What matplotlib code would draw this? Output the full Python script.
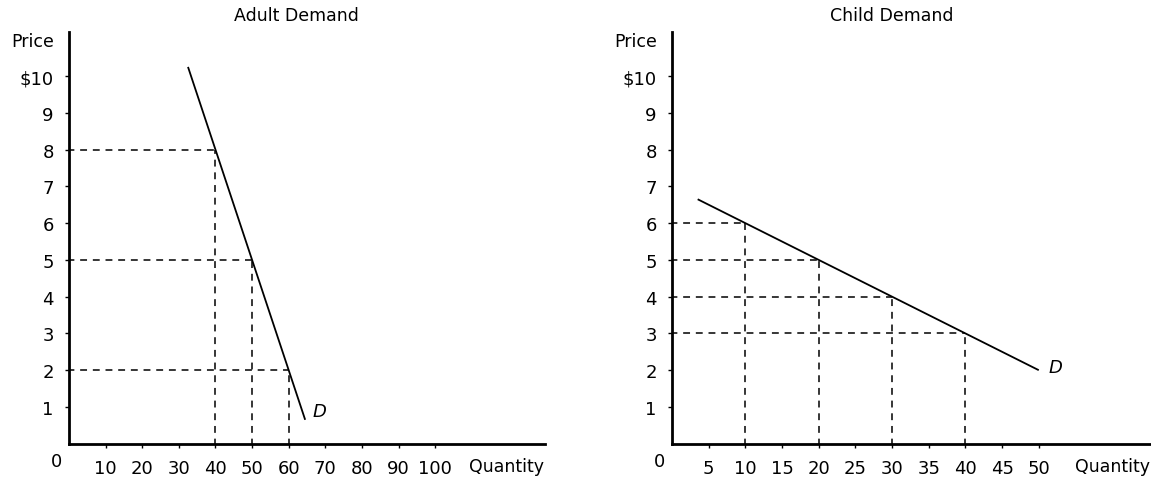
import matplotlib
matplotlib.use("Agg")
import matplotlib.pyplot as plt

# ---- data ----
price_ticks = [1, 2, 3, 4, 5, 6, 7, 8, 9, 10]
price_labels = ["1", "2", "3", "4", "5", "6", "7", "8", "9", "$10"]

adult_title = "Adult Demand"
adult_curve_q = [32.5, 64.5]
adult_curve_p = [10.25, 0.65]
adult_points_q = [40, 50, 60]
adult_points_p = [8, 5, 2]
adult_xticks = [10, 20, 30, 40, 50, 60, 70, 80, 90, 100]
adult_label_pos = (68.5, 0.9)

child_title = "Child Demand"
child_curve_q = [3.5, 50]
child_curve_p = [6.65, 2.0]
child_points_q = [10, 20, 30, 40]
child_points_p = [6, 5, 4, 3]
child_xticks = [5, 10, 15, 20, 25, 30, 35, 40, 45, 50]
child_label_pos = (52.3, 2.1)

plt.rcParams['font.family'] = ['DejaVu Sans']

fig = plt.figure(figsize=(11.51, 4.81), dpi=100)
H = 481.0
W = 1151.0
bottom = 1 - 444.7 / H
height = (444.7 - 33) / H

axL = fig.add_axes([69 / W, bottom, 476 / W, height])
axR = fig.add_axes([672 / W, bottom, 479 / W, height])


def style(ax, xmax, xticks, title, title_x):
    ax.set_xlim(0, xmax)
    ax.set_ylim(0, 11.2)
    for s in ["top", "right"]:
        ax.spines[s].set_visible(False)
    for s in ["left", "bottom"]:
        ax.spines[s].set_linewidth(2.0)
        ax.spines[s].set_color("black")
    ax.set_yticks(price_ticks)
    ax.set_yticklabels(price_labels)
    ax.set_xticks(xticks)
    ax.set_xticklabels([str(t) for t in xticks])
    ax.tick_params(axis="y", direction="out", length=3, width=1, pad=8, labelsize=13)
    ax.tick_params(axis="x", direction="out", length=3, width=1, pad=8, labelsize=13)
    ax.text(-0.076, 0.977, "Price", transform=ax.transAxes, ha="center", va="center", fontsize=12.5)
    ax.text(-0.026, -0.043, "0", transform=ax.transAxes, ha="center", va="center", fontsize=13)
    ax.text(0.997, -0.055, "Quantity", transform=ax.transAxes, ha="right", va="center", fontsize=12.5)
    fig.text(title_x / W, 1 - 16 / H, title, ha="center", va="center", fontsize=12.5)


def draw(ax, cq, cp, pq, pp, lab):
    for q, p in zip(pq, pp):
        ax.plot([0, q], [p, p], color="black", lw=1.1, ls=(1, (4.5, 3.8)), clip_on=False)
        ax.plot([q, q], [0, p], color="black", lw=1.1, ls=(1, (4.5, 3.8)), clip_on=False)
    ax.plot(cq, cp, color="black", lw=1.3, solid_capstyle="butt")
    ax.text(lab[0], lab[1], "D", style="italic", ha="center", va="center", fontsize=13)


style(axL, 130, adult_xticks, adult_title, 296)
style(axR, 65.3, child_xticks, child_title, 892)
draw(axL, adult_curve_q, adult_curve_p, adult_points_q, adult_points_p, adult_label_pos)
draw(axR, child_curve_q, child_curve_p, child_points_q, child_points_p, child_label_pos)

fig.savefig("out.png", dpi=100)
